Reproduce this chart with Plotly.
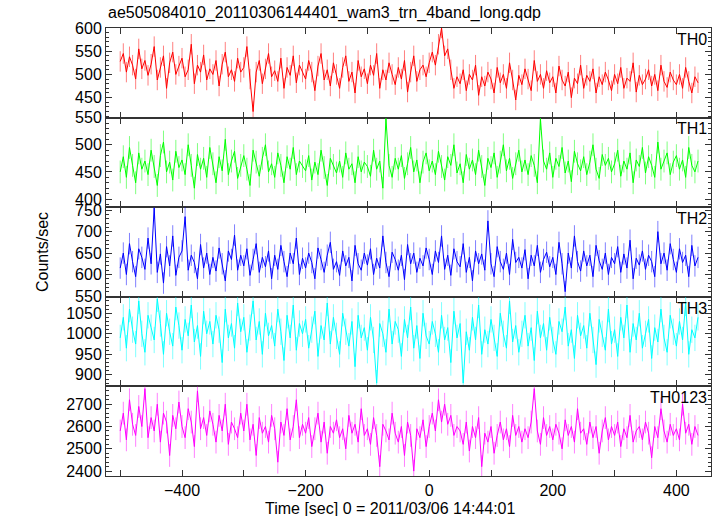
import numpy as np
import plotly.graph_objects as go
from plotly.subplots import make_subplots

# time bins [sec], 0 = 2011/03/06 14:44:01
time_start, time_stop, time_step = -500, 440, 5
time = np.arange(time_start, time_stop, time_step)

band_names = ["TH0", "TH1", "TH2", "TH3", "TH0123"]

th0 = [528, 545, 505, 538, 520, 490, 555, 512, 530, 498,
       522, 560, 488, 515, 540, 470, 525, 548, 500, 518,
       535, 495, 510, 565, 480, 520, 505, 542, 488, 512,
       500, 530, 475, 522, 548, 495, 510, 485, 535, 505,
       515, 560, 490, 420, 505, 530, 480, 512, 545, 495,
       508, 485, 535, 470, 515, 498, 540, 482, 520, 505,
       490, 530, 505, 465, 518, 545, 488, 510, 475, 525,
       500, 470, 515, 540, 485, 505, 460, 530, 495, 512,
       480, 520, 498, 545, 470, 510, 488, 525, 500, 478,
       515, 490, 530, 462, 505, 540, 485, 510, 520, 495,
       525, 548, 520, 565, 600, 540, 555, 510, 470, 495,
       480, 510, 465, 500, 488, 520, 455, 495, 475, 505,
       490, 460, 515, 482, 500, 470, 525, 488, 445, 498,
       478, 512, 490, 465, 530, 485, 500, 470, 508, 482,
       495, 460, 518, 488, 475, 505, 450, 492, 480, 520,
       470, 498, 485, 512, 460, 495, 478, 505, 488, 465,
       500, 480, 515, 470, 492, 485, 525, 462, 498, 478,
       490, 510, 475, 500, 465, 520, 485, 472, 505, 488,
       478, 500, 470, 515, 485, 460, 495, 482]

th1 = [450, 478, 440, 495, 462, 430, 485, 455, 470, 445,
       490, 460, 425, 480, 505, 450, 468, 435, 488, 458,
       472, 445, 500, 462, 420, 482, 455, 475, 440, 495,
       465, 430, 478, 452, 510, 445, 470, 488, 438, 462,
       480, 455, 425, 490, 468, 442, 475, 500, 450, 465,
       440, 485, 462, 430, 478, 455, 495, 445, 470, 460,
       452, 480, 435, 468, 445, 490, 458, 425, 475, 462,
       448, 470, 440, 485, 455, 465, 430, 478, 450, 468,
       460, 442, 490, 455, 470, 420, 548, 462, 440, 475,
       455, 480, 438, 465, 495, 450, 472, 430, 468, 485,
       452, 470, 445, 488, 460, 435, 478, 462, 500, 448,
       465, 430, 482, 455, 472, 445, 490, 460, 425, 475,
       458, 485, 440, 468, 500, 452, 475, 438, 465, 490,
       450, 472, 445, 480, 462, 430, 548, 470, 455, 485,
       440, 475, 460, 495, 448, 470, 432, 488, 465, 452,
       478, 445, 468, 500, 455, 438, 482, 462, 475, 450,
       465, 490, 442, 470, 455, 485, 430, 472, 460, 495,
       448, 478, 462, 440, 505, 455, 470, 485, 445, 468,
       480, 455, 472, 440, 495, 462, 450, 470]

th2 = [615, 650, 600, 672, 630, 595, 660, 640, 612, 685,
       625, 755, 605, 648, 580, 665, 620, 690, 598, 640,
       655, 735, 610, 645, 628, 590, 670, 615, 650, 600,
       640, 608, 662, 625, 585, 655, 635, 692, 610, 645,
       620, 660, 598, 635, 672, 605, 640, 618, 655, 590,
       645, 612, 668, 630, 595, 650, 625, 685, 600, 638,
       615, 650, 628, 590, 662, 635, 605, 645, 675, 612,
       630, 598, 655, 620, 640, 585, 668, 625, 610, 650,
       622, 660, 600, 638, 615, 690, 628, 595, 652, 635,
       610, 645, 588, 670, 625, 650, 605, 638, 620, 662,
       635, 600, 655, 628, 690, 612, 645, 598, 660, 630,
       618, 672, 605, 640, 585, 655, 625, 648, 610, 725,
       625, 595, 665, 630, 612, 650, 600, 682, 628, 640,
       615, 658, 590, 645, 620, 668, 605, 635, 652, 618,
       640, 600, 675, 625, 560, 650, 615, 690, 630, 608,
       655, 620, 645, 595, 668, 632, 612, 650, 600, 640,
       625, 665, 605, 648, 615, 680, 590, 638, 622, 655,
       612, 645, 630, 595, 700, 625, 650, 610, 672, 635,
       605, 660, 628, 645, 595, 668, 620, 640]

th3 = [990, 1040, 965, 1060, 1010, 975, 1080, 1000, 955, 1045,
       1015, 985, 1085, 1025, 950, 1050, 1005, 970, 1065, 1020,
       960, 1035, 995, 1070, 980, 1020, 945, 1055, 1000, 1030,
       975, 1045, 1010, 930, 1060, 990, 1025, 965, 1075, 1005,
       1040, 955, 1015, 1080, 985, 1030, 950, 1050, 995, 1020,
       970, 1060, 1005, 935, 1045, 990, 1070, 960, 1025, 1000,
       1035, 965, 1010, 1055, 945, 1020, 985, 1075, 975, 1040,
       995, 950, 1050, 1005, 970, 1030, 920, 1045, 990, 1015,
       960, 1040, 985, 880, 1025, 1000, 955, 1060, 975, 1030,
       1010, 945, 1035, 990, 1065, 965, 1020, 940, 1050, 995,
       975, 1030, 1000, 955, 1045, 985, 1015, 930, 1055, 990,
       1025, 880, 1005, 960, 1040, 985, 1070, 950, 1010, 975,
       1035, 990, 945, 1050, 1000, 965, 1080, 980, 1020, 955,
       1000, 1045, 970, 1015, 935, 1055, 990, 1025, 960, 1040,
       985, 950, 1030, 1005, 1065, 970, 1010, 940, 1045, 995,
       1020, 965, 1050, 985, 925, 1035, 1000, 960, 1060, 975,
       1010, 945, 1040, 990, 1070, 955, 1025, 985, 1050, 965,
       1000, 1035, 940, 1015, 980, 1060, 990, 955, 1045, 1005,
       970, 1030, 985, 1075, 950, 1010, 990, 1040]

th0123 = [2580, 2660, 2540, 2720, 2610, 2560, 2690, 2600, 2770, 2550,
          2640, 2580, 2700, 2530, 2660, 2620, 2470, 2650, 2590, 2710,
          2600, 2550, 2680, 2620, 2510, 2760, 2590, 2640, 2560, 2670,
          2610, 2530, 2650, 2580, 2700, 2520, 2620, 2590, 2550, 2660,
          2580, 2700, 2540, 2610, 2470, 2640, 2570, 2600, 2530, 2650,
          2590, 2440, 2620, 2560, 2680, 2540, 2600, 2720, 2550, 2610,
          2570, 2640, 2510, 2590, 2660, 2530, 2620, 2480, 2600, 2570,
          2630, 2550, 2590, 2500, 2650, 2570, 2610, 2530, 2680, 2560,
          2590, 2520, 2640, 2560, 2420, 2610, 2580, 2540, 2660, 2570,
          2530, 2600, 2470, 2620, 2560, 2400, 2590, 2550, 2630, 2510,
          2600, 2660, 2580, 2720, 2620, 2700, 2610, 2650, 2560, 2600,
          2580, 2520, 2620, 2490, 2600, 2550, 2640, 2420, 2570, 2530,
          2600, 2480, 2560, 2620, 2540, 2590, 2510, 2650, 2560, 2600,
          2530, 2590, 2550, 2620, 2770, 2580, 2520, 2640, 2560, 2600,
          2540, 2610, 2570, 2500, 2630, 2560, 2600, 2530, 2680, 2570,
          2590, 2520, 2620, 2550, 2600, 2480, 2580, 2640, 2540, 2600,
          2560, 2620, 2510, 2590, 2550, 2650, 2530, 2580, 2600, 2540,
          2620, 2570, 2460, 2600, 2550, 2680, 2580, 2530, 2610, 2560,
          2590, 2540, 2700, 2570, 2610, 2520, 2600, 2560]

# typical 1-sigma error per band [counts/sec]
band_errors = [22, 21, 25, 32, 51]

band_values = [th0, th1, th2, th3, th0123]
line_colors = ["#ff0000", "#00ff00", "#0000ff", "#00ffff", "#ff00ff"]
err_colors = ["rgba(255,0,0,0.5)", "rgba(0,255,0,0.5)", "rgba(0,0,255,0.5)",
              "rgba(0,255,255,0.5)", "rgba(255,0,255,0.5)"]
y_ranges = [[407, 600], [385, 550], [548, 757], [872, 1090], [2378, 2780]]
y_dticks = [50, 50, 50, 50, 100]
y_minor = [10, 10, 10, 10, 20]

FONT = "Liberation Sans, Arial, Helvetica, sans-serif"
AX = "#333333"

fig = make_subplots(rows=5, cols=1, shared_xaxes=True, vertical_spacing=0)

for i, (name, vals) in enumerate(zip(band_names, band_values)):
    fig.add_trace(go.Scatter(
        x=time, y=vals, mode="lines", line=dict(color=line_colors[i], width=1),
        error_y=dict(type="constant", value=band_errors[i], color=err_colors[i],
                     thickness=1, width=0, visible=True),
        showlegend=False, name=name), row=i + 1, col=1)
    fig.update_yaxes(range=y_ranges[i], dtick=y_dticks[i], tick0=0,
                     minor=dict(dtick=y_minor[i], ticklen=3, ticks="inside", tickcolor=AX),
                     row=i + 1, col=1)
    fig.add_annotation(text=name, xref=f"x{'' if i == 0 else i + 1} domain",
                       yref=f"y{'' if i == 0 else i + 1} domain",
                       x=0.997, y=0.99, xanchor="right", yanchor="top", showarrow=False,
                       font=dict(size=16, color="black", family=FONT))

fig.update_xaxes(range=[-523, 456], dtick=100, tick0=0, ticks="inside", ticklen=6,
                 tickcolor=AX, showline=True, linecolor=AX, linewidth=1,
                 mirror="allticks", showgrid=False, zeroline=False,
                 tickfont=dict(size=16, family=FONT, color="black"))
fig.update_xaxes(tickvals=[-500, -400, -300, -200, -100, 0, 100, 200, 300, 400],
                 ticktext=["", "\u2212400", "", "\u2212200", "", "0", "", "200", "", "400"],
                 row=5, col=1)
fig.update_yaxes(ticks="inside", ticklen=6, tickcolor=AX, showline=True, linecolor=AX,
                 linewidth=1, mirror="allticks", showgrid=False, zeroline=False,
                 tickfont=dict(size=16, family=FONT, color="black"))

fig.add_annotation(text="ae505084010_20110306144401_wam3_trn_4band_long.qdp",
                   xref="paper", yref="paper", x=0.0, y=1.0, yshift=4,
                   xanchor="left", yanchor="bottom", showarrow=False,
                   font=dict(size=16, family=FONT, color="black"))
fig.add_annotation(text="Counts/sec", xref="paper", yref="paper", x=0, xshift=-64, y=0.5,
                   textangle=-90, showarrow=False, xanchor="center", yanchor="middle",
                   font=dict(size=16, family=FONT, color="black"))
fig.add_annotation(text="Time [sec] 0 = 2011/03/06 14:44:01", xref="paper", yref="paper",
                   x=0.47, y=0, yshift=-22, xanchor="center", yanchor="top", showarrow=False,
                   font=dict(size=16, family=FONT, color="black"))

fig.update_layout(width=717, height=516, margin=dict(l=106, r=6, t=28, b=40),
                  paper_bgcolor="white", plot_bgcolor="white",
                  font=dict(family=FONT, size=16, color="black"))

fig.write_html("out.html", config={"displayModeBar": False},
               post_script="document.body.style.margin='0px';")
